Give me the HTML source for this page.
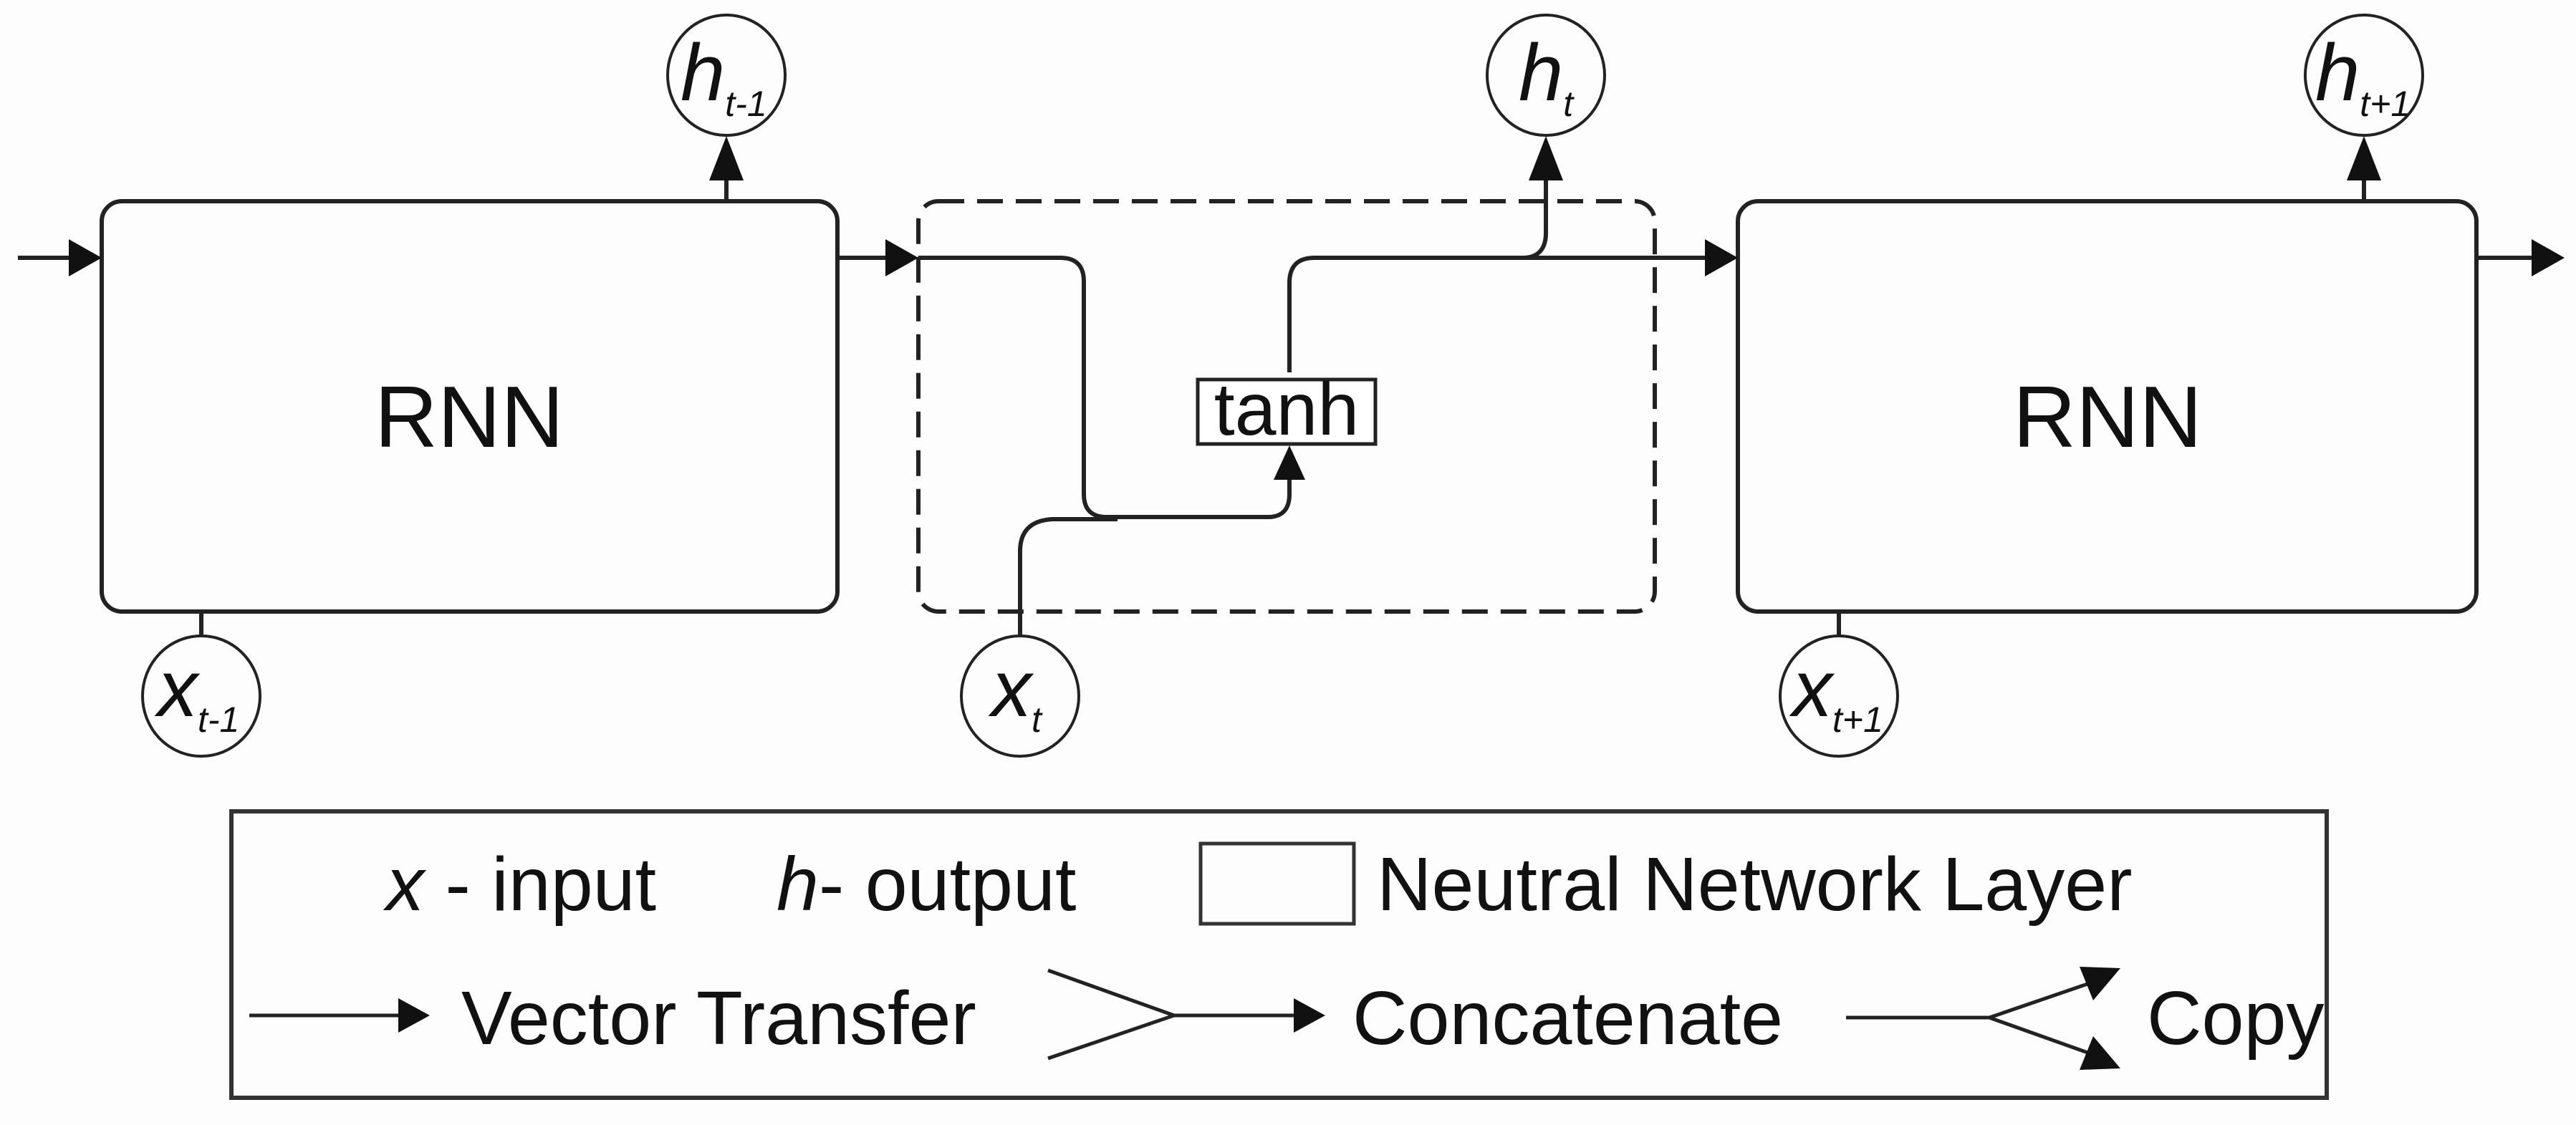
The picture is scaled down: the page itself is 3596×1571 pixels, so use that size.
<!DOCTYPE html>
<html><head><style>html,body{margin:0;padding:0;background:#fdfdfd}svg{display:block}</style></head>
<body>
<svg width="3596" height="1571" viewBox="0 0 3596 1571" xmlns="http://www.w3.org/2000/svg" font-family="Liberation Sans, sans-serif">
<rect width="3596" height="1571" fill="#fdfdfd"/>
<g fill="none" stroke="#222" stroke-width="6">
<rect x="142" y="281" width="1027" height="573" rx="28"/>
<rect x="1282" y="281" width="1028" height="573" rx="28" stroke-dasharray="36,18"/>
<rect x="2426" y="281" width="1031" height="573" rx="28"/>
<line x1="25" y1="360" x2="110" y2="360"/>
<line x1="1169" y1="360" x2="1250" y2="360"/>
<path d="M1282 360 H1480 Q1513 360 1513 393 V690 Q1513 722 1545 722 H1770 Q1800 722 1800 690 V660"/>
<path d="M1424 888 V770 Q1424 727 1470 725 H1560"/>
<path d="M1800 520 V395 Q1800 360 1835 360 H2390"/>
<path d="M2125 360 Q2158 360 2158 325 V250"/>
<line x1="3457" y1="360" x2="3540" y2="360"/>
<line x1="1014" y1="281" x2="1014" y2="250"/>
<line x1="3300" y1="281" x2="3300" y2="250"/>
<line x1="281" y1="854" x2="281" y2="890"/>
<line x1="2567" y1="854" x2="2567" y2="890"/>
<g stroke-width="4">
<ellipse cx="1014" cy="105" rx="82" ry="84"/>
<ellipse cx="2158" cy="105" rx="82" ry="84"/>
<ellipse cx="3300" cy="105" rx="82" ry="84"/>
<ellipse cx="281" cy="972" rx="82" ry="84"/>
<ellipse cx="1424" cy="972" rx="82" ry="84"/>
<ellipse cx="2567" cy="972" rx="82" ry="84"/>
</g>
<rect x="1672" y="530" width="248" height="90" stroke-width="5" fill="#fff"/>
</g>
<g fill="#111">
<polygon points="142,360 96,334 96,386"/>
<polygon points="1282,360 1236,334 1236,386"/>
<polygon points="2426,360 2380,334 2380,386"/>
<polygon points="3580,360 3534,334 3534,386"/>
<polygon points="1014,190 990,252 1038,252"/>
<polygon points="2158,190 2134,252 2182,252"/>
<polygon points="3300,190 3276,252 3324,252"/>
<polygon points="1800,622 1778,670 1822,670"/>
</g>
<g fill="#111">
<text x="655" y="624" font-size="122" text-anchor="middle">RNN</text>
<text x="2942" y="624" font-size="122" text-anchor="middle">RNN</text>
<text x="1796" y="607" font-size="104" text-anchor="middle">tanh</text>
<g font-style="italic">
<text x="950" y="140" font-size="112">h<tspan font-size="50" dy="22">t-1</tspan></text>
<text x="2120" y="140" font-size="112">h<tspan font-size="50" dy="22">t</tspan></text>
<text x="3232" y="140" font-size="112">h<tspan font-size="50" dy="22">t+1</tspan></text>
<text x="220" y="1000" font-size="112">x<tspan font-size="50" dy="22">t-1</tspan></text>
<text x="1384" y="1000" font-size="112">x<tspan font-size="50" dy="22">t</tspan></text>
<text x="2502" y="1000" font-size="112">x<tspan font-size="50" dy="22">t+1</tspan></text>
</g>
</g>
<rect x="323" y="1133" width="2925" height="400" fill="none" stroke="#333" stroke-width="6"/>
<g fill="#111" font-size="106">
<text x="539" y="1271"><tspan font-style="italic">x</tspan> - input</text>
<text x="1084" y="1271"><tspan font-style="italic">h</tspan>- output</text>
<text x="1922" y="1271">Neutral Network Layer</text>
<text x="644" y="1458">Vector Transfer</text>
<text x="1888" y="1458">Concatenate</text>
<text x="2997" y="1458">Copy</text>
</g>
<rect x="1676" y="1178" width="214" height="112" fill="none" stroke="#333" stroke-width="5"/>
<g stroke="#222" stroke-width="5" fill="none">
<line x1="348" y1="1418" x2="570" y2="1418"/>
<polyline points="1463,1355 1639,1418 1463,1478"/>
<line x1="1639" y1="1418" x2="1820" y2="1418"/>
<line x1="2577" y1="1421" x2="2777" y2="1421"/>
<line x1="2777" y1="1421" x2="2920" y2="1372"/>
<line x1="2777" y1="1421" x2="2920" y2="1472"/>
</g>
<g fill="#111">
<polygon points="600,1418 556,1394 556,1442"/>
<polygon points="1850,1418 1806,1394 1806,1442"/>
<polygon points="2960,1352 2903,1350 2922,1397"/>
<polygon points="2960,1492 2903,1494 2922,1447"/>
</g>
</svg>
</body></html>
